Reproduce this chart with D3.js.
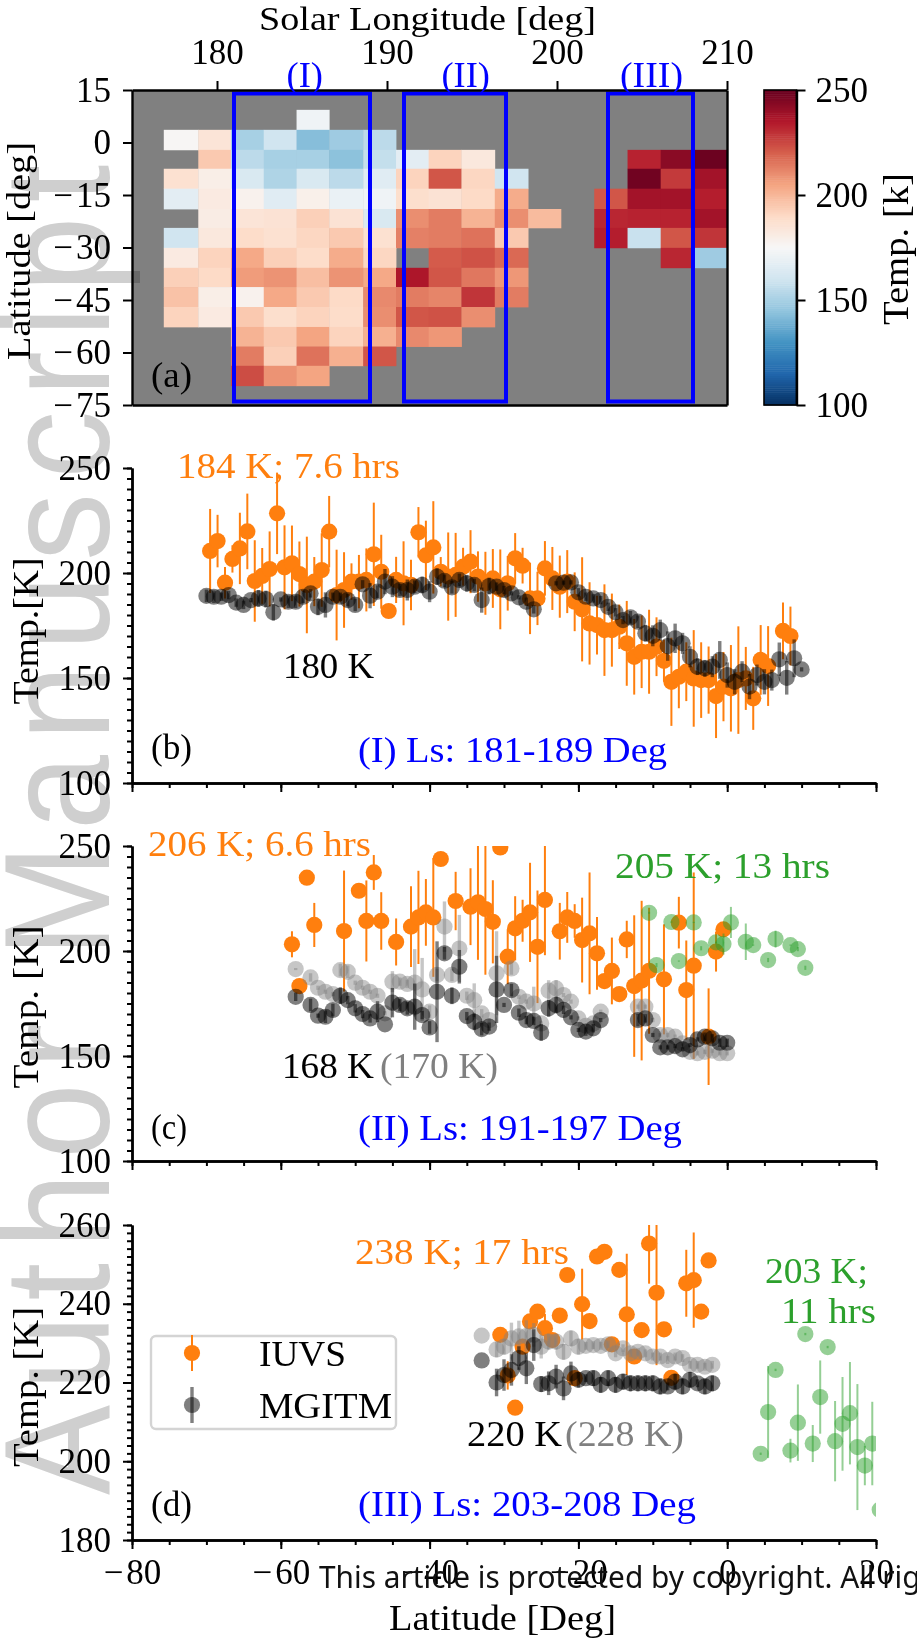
<!DOCTYPE html>
<html lang="en">
  <head>
    <meta charset="utf-8" />
    <title>Temperature vs latitude</title>
    <script src="https://d3js.org/d3.v7.min.js"></script>
    <style>
      body { margin: 0; background: white; }
      text { font-family: "Liberation Serif", serif; }
    </style>
  </head>
  <body>
    <script>
      const WIDTH = 917;
      const HEIGHT = 1640;
      const ORANGE = "#ff7f0e";
      const GREEN = "#2ca02c";
      const BLUE = "#0000ff";
      const GREY = "#808080";
      const MARKER_R = 8.1;

      // Panel (a) bins and temperatures, rows top to bottom, null = no data
      const lsEdges = [176.87, 178.9, 180.82, 182.75, 184.68, 186.6, 188.6, 190.53, 192.45, 194.38, 196.34, 198.3, 200.23, 202.19, 204.15, 206.1, 208.07, 210];
      const latEdges = [9.33, 3.62, -2.1, -7.5, -13.2, -19, -24.4, -30.1, -35.8, -41.3, -47, -52.7, -58.3, -63.8, -69.5];
      const _ = null;
      const tempGrid = [
        [_, _, _, _, 172, _, _, _, _, _, _, _, _, _, _, _, _],
        [176, 185, 150, 160, 143, 148, 155, _, _, _, _, _, _, _, _, _, _],
        [_, 195, 155, 150, 150, 144, 157, 167, 192, 183, _, _, _, _, 233, 243, 249],
        [187, 180, 163, 152, 163, 155, 166, 192, 222, 191, 160, _, _, _, 248, 228, 238],
        [167, 182, 178, 166, 179, 170, 172, 188, 186, 190, 203, _, _, 222, 238, 238, 234],
        [_, 181, 185, 186, 193, 186, 163, 210, 214, 201, 210, 199, _, 232, 233, 233, 238],
        [160, 183, 189, 187, 191, 195, 187, 213, 214, 216, 195, _, _, 234, 158, 222, 229],
        [182, 192, 204, 193, 189, 203, 191, _, 221, 223, 218, _, _, _, _, 232, 148],
        [193, 190, 207, 209, 198, 209, 204, 236, 222, 215, 208, _, _, _, _, _, _],
        [197, 180, 178, 204, 195, 190, 211, 214, 212, 229, 214, _, _, _, _, _, _],
        [192, 182, 195, 188, 192, 189, 210, 222, 223, 210, _, _, _, _, _, _, _],
        [_, _, 201, 195, 205, 192, 202, 211, 208, _, _, _, _, _, _, _, _],
        [_, _, 214, 193, 216, 202, 222, _, _, _, _, _, _, _, _, _, _],
        [_, _, 224, 209, 205, _, _, _, _, _, _, _, _, _, _, _, _],
      ];
      const boxStarts = [181, 191, 203];
      const boxEnds = [189, 197, 208];
      const boxNames = ["(I)", "(II)", "(III)"];
      const boxLabelX = [286.5, 441.5, 620];
      const boxLabelW = [36.5, 48.5, 63];
      const rdbuColors = ["#053061", "#2166ac", "#4393c3", "#92c5de", "#d1e5f0", "#f7f7f7", "#fddbc7", "#f4a582", "#d6604d", "#b2182b", "#67001f"];

      // Panel (b) Ls 181-189
      const bIuvsLat = [-69.5, -68.5, -67.5, -66.5, -65.5, -64.5, -63.5, -62.5, -61.5, -60.5, -59.5, -58.5, -57.5, -56.5, -55.5, -54.5, -53.5, -52.5, -51.5, -50.5, -49.5, -48.5, -47.5, -46.5, -45.5, -44.5, -43.5, -42.5, -41.5, -40.5, -39.5, -38.5, -37.5, -36.5, -35.5, -34.5, -33.5, -32.5, -31.5, -30.5, -29.5, -28.5, -27.5, -26.5, -25.5, -24.5, -23.5, -22.5, -21.5, -20.5, -19.5, -18.5, -17.5, -16.5, -15.5, -14.5, -13.5, -12.5, -11.5, -10.5, -9.5, -8.5, -7.5, -6.5, -5.5, -4.5, -3.5, -2.5, -1.5, -0.5, 0.5, 1.5, 2.5, 3.5, 4.5, 5.5, 7.5, 8.5];
      const bIuvsTemp = [210.5, 215.2, 195.4, 206.7, 211.7, 219.8, 196.2, 198.6, 201.9, 228.4, 202.7, 204.6, 199.5, 194.3, 195.9, 201.4, 219.7, 189.5, 191.9, 195.9, 195.9, 196.7, 208.9, 200.6, 181.9, 196.7, 195.1, 194.3, 219.4, 208.4, 212.2, 200.6, 198.3, 199.1, 203, 205.4, 198.3, 195.1, 197.4, 192.2, 195.1, 207, 203.5, 187.9, 187.9, 202.2, 197.4, 193.5, 195.9, 186.3, 182.7, 176, 175.2, 172.8, 172.8, 174.4, 166.5, 160.1, 162.5, 162.5, 164.9, 158.2, 148.2, 150.6, 153, 149.8, 149, 149, 141.4, 145.9, 145.1, 149, 149.8, 140.3, 158.6, 155.7, 172.4, 170];
      const bIuvsErr = [20, 12.5, 7.5, 6.5, 17, 18, 19.4, 13.3, 17.9, 19.4, 20, 18, 15.5, 23, 11.7, 17.5, 17, 21.6, 18, 8.7, 12.7, 15, 24.6, 17.6, 0, 11, 20, 12, 12, 16.5, 22, 7, 21, 20, 9, 15, 12, 15, 14, 19, 13, 12, 8.5, 17, 12.7, 13, 15, 14.8, 15, 14, 24.8, 19.6, 14, 21.8, 17.4, 10.6, 20.2, 18, 17.3, 20, 14, 10, 21, 15, 14, 23, 18, 16, 20, 16.5, 20.6, 25.6, 15, 15, 16.6, 19, 13.5, 14];
      const bModelLat = [-70, -69, -68, -67, -66, -65, -64, -63, -62, -61, -60, -59, -58, -57, -56, -55, -54, -53, -52, -51, -50, -49, -48, -47, -46, -45, -44, -43, -42, -41, -40, -39, -38, -37, -36, -35, -34, -33, -32, -31, -30, -29, -28, -27, -26, -23, -22, -21, -20, -19, -18, -17, -16, -15, -14, -13, -12, -11, -10, -9, -8, -7, -6, -5, -4, -3, -2, -1, 0, 1, 2, 3, 4, 5, 6, 7, 8, 9, 10];
      const bModelTemp = [189.1, 188.7, 188.7, 189.5, 185.9, 184.8, 187.1, 187.9, 187.6, 181.3, 187.4, 186.3, 186.3, 188.7, 190.3, 183.9, 184.8, 188.7, 188.7, 187.1, 184.8, 194.6, 189.2, 191.1, 195.9, 193.5, 191.9, 191.9, 193.5, 194.3, 191.1, 198.3, 196.3, 193.2, 196.7, 195.1, 194.3, 187.1, 193.8, 193.5, 191.9, 190.3, 188.4, 186.3, 182.7, 195.1, 195.4, 195.5, 190.8, 188.7, 187.9, 187.1, 183.9, 181.3, 177.6, 178.9, 176.8, 171.3, 170.1, 172.8, 165.2, 168.9, 166.5, 160.1, 155.4, 154.6, 155.4, 158.6, 151.4, 148.2, 153, 145.9, 151.4, 148.2, 149, 158.9, 150.1, 159.4, 154.1];
      const bModelErr = [3, 3, 2, 2, 2, 2, 1, 4, 4, 4, 1, 3, 3, 3, 2, 4, 6, 2, 2, 3, 3, 2, 6, 3, 6, 5, 3, 5, 3, 4, 5, 4, 3, 3, 3, 4, 3, 6, 4, 2, 2, 1, 1, 2, 2, 1, 1, 1, 2, 2, 2, 2, 2, 2, 2, 3, 3, 4, 5, 5, 7, 7, 5, 5, 4, 4, 5, 9, 6, 6, 5, 6, 5, 6, 5, 8, 8, 9, 1];

      // Panel (c) Ls 191-197
      const cIuvsLat = [-58.5, -57.5, -56.5, -55.5, -51.5, -49.5, -48.5, -47.5, -46.5, -44.5, -42.5, -41.5, -40.5, -39.5, -38.5, -36.5, -34.5, -33.5, -32.5, -31.5, -30.5, -29.5, -28.5, -27.5, -26.5, -25.5, -24.5, -22.5, -21.5, -20.5, -19.5, -18.5, -17.5, -16.5, -15.5, -14.5, -13.5, -12.5, -11.5, -10.5, -8.5, -6.5, -5.5, -4.5, -2.5, -1.5, -0.5];
      const cIuvsTemp = [203.2, 183.3, 234.9, 212.4, 209.5, 228.7, 214.3, 237.4, 214.3, 204.3, 211.6, 216, 218.4, 216, 243.8, 223.8, 221.1, 223.2, 220, 213.9, 249.3, 197.3, 210.8, 214.4, 218.4, 202, 224.3, 209.4, 216, 214.3, 205.2, 208.4, 198.9, 185.7, 190.5, 179.5, 205.5, 183.3, 185.9, 190.6, 186.5, 213.5, 181.4, 193, 159.2, 199.7, 210.3];
      const cIuvsErr = [6.2, 0, 0, 10.5, 28.8, 0, 19.3, 8.3, 13.7, 11.2, 19.2, 22.2, 15.9, 28.3, 0, 13.9, 18.3, 27.4, 31.3, 19.8, 0, 13.1, 15.3, 10, 23.6, 26.8, 26.3, 13.5, 12.1, 8, 20.2, 29, 17.3, 2, 15.9, 0, 8.9, 33.7, 38, 30, 26.2, 12.3, 23.6, 44.4, 23, 9.5, 0];
      const cGreenLat = [-10.5, -9.5, -7.5, -6.5, -4.5, -3.5, -1.5, -0.5, 0.5, 2.5, 3.5, 5.5, 6.5, 8.5, 9.5, 10.5];
      const cGreenTemp = [218.2, 193.3, 213.8, 195.2, 213.6, 201.3, 204.1, 203.3, 213.6, 204.4, 202.8, 195.7, 205.7, 202.8, 200.9, 192];
      const cGreenErr = [0.5, 1, 0.3, 0.3, 0.3, 1, 0.3, 5, 7.4, 8.7, 0.3, 1, 4, 0.3, 1, 1];
      const cModelLat = [-58, -56, -55, -54, -53, -52, -51, -50, -49, -48, -47, -46, -45, -44, -43, -42, -41, -40, -39, -38, -37, -36, -35, -34, -33, -32, -31, -30, -29, -28, -27, -26, -25, -24, -23, -22, -21, -20, -19, -18, -17, -12, -11, -10, -9, -8, -7, -6, -5, -4, -3, -2, -1, 0];
      const cModelTemp = [178.2, 174.3, 169.2, 168.7, 171.9, 178.7, 176.6, 172.7, 170, 167.9, 171.1, 165.1, 175.4, 174.3, 172.7, 173.5, 169.5, 163.6, 180.6, 198.9, 178.7, 192.5, 169, 166.3, 162.8, 164, 181.7, 174.3, 181.4, 170.6, 167.1, 166.7, 161.2, 172.7, 174.3, 172, 168.4, 162.4, 161.6, 163.2, 167.1, 167.1, 167.9, 160, 154.1, 154.1, 154.7, 153.2, 155.2, 157.9, 159.2, 158.4, 156.3, 156.3];
      const cModelErr = [2, 3, 1, 3, 3, 4, 2, 2, 2, 2, 5, 0, 7, 3, 3, 11, 2, 3, 24, 3, 4, 8, 2, 4, 3, 2, 16, 1, 3, 2, 2, 2, 4, 4, 4, 2, 1, 1, 2, 2, 1, 3, 2, 1, 1, 1, 1, 1, 1, 1, 2, 2, 2, 2];
      const cShiftLat = [-58, -56, -55, -54, -53, -52, -51, -50, -49, -48, -47, -46, -45, -44, -43, -42, -41, -40, -39, -38, -37, -36, -35, -34, -33, -32, -31, -29, -28, -27, -26, -25, -24, -23, -22, -21, -20, -19, -18, -17, -12, -11, -10, -9, -8, -7, -6, -5, -4, -3, -2, -1, 0];
      const cShiftTemp = [191.4, 187.4, 182.5, 180.6, 179.5, 190.9, 190.1, 184.9, 182.5, 180.6, 178.7, 170.3, 185.4, 185.4, 184.3, 184.9, 181.7, 171.1, 188.6, 211.6, 188.6, 201.2, 178.7, 176.6, 170.3, 167.1, 189.4, 191.7, 178.2, 175.9, 175, 165.5, 181.1, 182.2, 179, 175.9, 167.9, 164.4, 165.5, 171.1, 173.5, 173.5, 167.1, 160, 160, 159.2, 156, 152, 151.3, 152, 152.5, 151.3, 151.3];
      const cShiftErr = [0.5, 2, 1, 1, 1, 3, 3, 1, 1, 1, 1, 1, 5, 2, 2, 16, 15, 3, 3, 12, 3, 16, 2, 8, 2, 1, 20, 3, 1, 1, 8, 1, 5, 4, 1, 1, 1, 1, 1, 1, 1, 1, 1, 1, 1, 1, 1, 1, 1, 1, 1, 1, 1];

      // Panel (d) Ls 203-208
      const dIuvsLat = [-30.5, -29.5, -28.5, -27.5, -26.5, -25.5, -24.5, -23.5, -22.5, -21.5, -20.5, -19.5, -18.5, -17.5, -16.5, -15.5, -14.5, -13.5, -12.5, -11.5, -10.5, -9.5, -8.5, -7.5, -5.5, -4.5, -3.5, -2.5];
      const dIuvsTemp = [232.1, 221.8, 213.6, 229.1, 235.5, 238, 233.8, 230.8, 237, 247.3, 221.1, 239.9, 235.6, 252, 253.2, 229.7, 248.6, 237.3, 226.6, 233.3, 255.3, 242.8, 233.5, 221.2, 245.2, 246, 238, 251];
      const dIuvsErr = [0, 3.6, 0, 0, 0, 0, 3.6, 0, 0, 0, 0, 9, 0, 0, 0, 0, 0, 15.4, 0, 0, 10.2, 18.4, 0, 0, 8.5, 12.1, 0, 0];
      const dGreenLat = [4.5, 5.5, 6.5, 8.5, 9.5, 10.5, 11.5, 12.5, 13.5, 14.5, 15.5, 16.5, 17.5, 18.5, 19.5, 20.5];
      const dGreenTemp = [201.9, 212.5, 223.2, 202.7, 209.8, 232.3, 204.5, 216.3, 229, 205.1, 209.5, 212.2, 203.6, 198.9, 204.5, 187.7];
      const dGreenErr = [0.3, 11.7, 0.3, 3, 9.7, 0.3, 4.7, 9.3, 0.3, 10.2, 11.9, 13, 16, 5, 10.6, 0.3];
      const dModelLat = [-33, -31, -30, -29, -28, -27, -26, -25, -24, -23, -22, -21, -20, -19, -18, -17, -16, -15, -14, -13, -12, -11, -10, -9, -8, -7, -6, -5, -4, -3, -2];
      const dModelTemp = [225.6, 220, 221.9, 223.2, 226.2, 223.6, 229.5, 219.6, 219.8, 221.5, 218.5, 222.3, 220.7, 221.1, 221.1, 219.4, 221.1, 219.4, 220.2, 219.8, 219.8, 219.8, 219.8, 219, 219, 220.2, 219, 220.7, 219.8, 219, 219.8];
      const dModelErr = [0, 3.5, 4, 4, 3, 4, 4, 2, 3, 3, 3, 3, 2, 1, 2, 2, 2, 2, 2, 2, 2, 2, 2, 2, 1, 2, 2, 2, 1, 2, 2];
      const dShiftLat = dModelLat;
      const dShiftTemp = [231.9, 228.4, 229.1, 231.2, 231.7, 231.8, 232.1, 229.1, 230.4, 230.4, 227.8, 231.2, 229.1, 229.3, 229.5, 229.3, 229.7, 227.4, 228.7, 227.4, 227.8, 227.4, 226.6, 226.6, 225.7, 226.6, 226.2, 224.5, 224.5, 224, 224.5];
      const dShiftErr = [0, 2, 2, 4, 4, 4, 3, 3, 2, 2, 2, 2, 2, 1, 1, 1, 1, 1, 1, 1, 1, 1, 1, 1, 1, 1, 1, 1, 1, 1, 1];

      const svg = d3.select("body").append("svg").attr("width", WIDTH).attr("height", HEIGHT);
      svg.append("rect").attr("width", WIDTH).attr("height", HEIGHT).attr("fill", "white");

      // Text is squeezed to the measured width since LaTeX fonts are not around
      function label(txt, x, y, w, color, size) {
        const t = svg.append("text").attr("x", x).attr("y", y)
          .attr("fill", color || "black").attr("font-size", size || 35).text(txt);
        if (w) t.attr("textLength", w).attr("lengthAdjust", "spacingAndGlyphs");
        return t;
      }

      function vLabel(txt, x, cy, w, size) {
        return svg.append("text").attr("transform", "translate(" + x + "," + cy + ") rotate(-90)")
          .attr("text-anchor", "middle").attr("font-size", size || 35)
          .attr("textLength", w).attr("lengthAdjust", "spacingAndGlyphs").text(txt);
      }

      // LaTeX minus is wide, the hair space makes up for a bit of it
      const minusFmt = (d) => String(d).replace("-", "\u2212\u200a");

      function styleAxis(g) {
        g.selectAll(".domain").attr("stroke", "black").attr("stroke-width", 2.4);
        g.selectAll(".tick line").attr("stroke", "black").attr("stroke-width", 2);
        g.selectAll(".tick text").attr("fill", "black").attr("font-size", 35)
          .style("font-family", '"Liberation Serif", serif');
      }

      function addAxis(axis, tx, ty) {
        const g = svg.append("g").attr("transform", "translate(" + tx + "," + ty + ")").call(axis);
        g.attr("font-family", null);
        styleAxis(g);
        return g;
      }

      // Panel (a)
      const PANEL_A = { left: 132, right: 727, top: 90, bottom: 405 };
      const lsScale = d3.scaleLinear().domain([175, 210]).range([PANEL_A.left, PANEL_A.right]);
      const latScaleA = d3.scaleLinear().domain([15, -75]).range([PANEL_A.top, PANEL_A.bottom]);
      const tempColor = d3.scaleLinear().domain(d3.range(11).map((i) => 100 + i * 15)).range(rdbuColors);

      svg.append("rect").attr("x", PANEL_A.left).attr("y", PANEL_A.top)
        .attr("width", PANEL_A.right - PANEL_A.left).attr("height", PANEL_A.bottom - PANEL_A.top)
        .attr("fill", GREY);

      const cells = tempGrid.flatMap((row, r) => row.map((v, c) => ({ r, c, v }))).filter((d) => d.v !== null);
      svg.append("g").selectAll("rect").data(cells).enter().append("rect")
        .attr("x", (d) => lsScale(lsEdges[d.c]))
        .attr("y", (d) => latScaleA(latEdges[d.r]))
        .attr("width", (d) => lsScale(lsEdges[d.c + 1]) - lsScale(lsEdges[d.c]) + 0.4)
        .attr("height", (d) => latScaleA(latEdges[d.r + 1]) - latScaleA(latEdges[d.r]) + 0.4)
        .attr("fill", (d) => tempColor(d.v));

      svg.append("g").selectAll("rect").data(boxStarts).enter().append("rect")
        .attr("x", (d) => lsScale(d))
        .attr("y", latScaleA(14))
        .attr("width", (d, i) => lsScale(boxEnds[i]) - lsScale(d))
        .attr("height", latScaleA(-74) - latScaleA(14))
        .attr("fill", "none").attr("stroke", BLUE).attr("stroke-width", 4);

      addAxis(d3.axisTop(lsScale).tickValues([180, 190, 200, 210]).tickSize(9).tickPadding(17).tickSizeOuter(0), 0, PANEL_A.top);
      addAxis(d3.axisLeft(latScaleA).tickValues([15, 0, -15, -30, -45, -60, -75]).tickFormat(minusFmt).tickSize(9).tickPadding(12).tickSizeOuter(0), PANEL_A.left, 0);
      addAxis(d3.axisBottom(lsScale).tickValues([]).tickSizeOuter(0), 0, PANEL_A.bottom);
      addAxis(d3.axisRight(latScaleA).tickValues([]).tickSizeOuter(0), PANEL_A.right, 0);

      label("Solar Longitude [deg]", 259, 30, 337, "black", 33);
      vLabel("Latitude [deg]", 30, 251, 218, 33);
      label("(a)", 151, 387, 41);
      boxNames.forEach((n, i) => label(n, boxLabelX[i], 87, boxLabelW[i], BLUE));

      // Colour bar
      const CBAR = { left: 764, right: 796.5 };
      const cbarScale = d3.scaleLinear().domain([100, 250]).range([PANEL_A.bottom, PANEL_A.top]);
      svg.append("g").selectAll("rect").data(d3.range(100, 250, 1)).enter().append("rect")
        .attr("x", CBAR.left).attr("width", CBAR.right - CBAR.left)
        .attr("y", (d) => cbarScale(d + 1)).attr("height", (d) => cbarScale(d) - cbarScale(d + 1) + 0.5)
        .attr("fill", (d) => tempColor(d + 0.5));
      svg.append("rect").attr("x", CBAR.left).attr("y", PANEL_A.top)
        .attr("width", CBAR.right - CBAR.left).attr("height", PANEL_A.bottom - PANEL_A.top)
        .attr("fill", "none").attr("stroke", "black").attr("stroke-width", 1.6);
      addAxis(d3.axisRight(cbarScale).tickValues([100, 150, 200, 250]).tickSize(9).tickPadding(10).tickSizeOuter(0), CBAR.right, 0);
      vLabel("Temp. [k]", 908, 249, 152);

      // Scatter panels share one latitude axis
      const latScale = d3.scaleLinear().domain([-80, 20]).range([132, 876]);

      function errorSeries(g, y, lats, temps, errs, color, opacity, lw) {
        const pts = lats.map((lat, i) => ({ lat, t: temps[i], e: errs[i] }));
        g.append("g").selectAll("line").data(pts.filter((d) => d.e > 0)).enter().append("line")
          .attr("x1", (d) => latScale(d.lat)).attr("x2", (d) => latScale(d.lat))
          .attr("y1", (d) => y(d.t - d.e)).attr("y2", (d) => y(d.t + d.e))
          .attr("stroke", color).attr("stroke-width", lw).attr("stroke-opacity", opacity);
        g.append("g").selectAll("circle").data(pts).enter().append("circle")
          .attr("cx", (d) => latScale(d.lat)).attr("cy", (d) => y(d.t)).attr("r", MARKER_R)
          .attr("fill", color).attr("fill-opacity", opacity);
      }

      function scatterPanel(name, domain, top, bottom, majors, minorStep, series) {
        const y = d3.scaleLinear().domain(domain).range([bottom, top]);
        svg.append("clipPath").attr("id", "clip-" + name).append("rect")
          .attr("x", 132).attr("y", top).attr("width", 876 - 132).attr("height", bottom - top);
        const g = svg.append("g").attr("clip-path", "url(#clip-" + name + ")");
        series.forEach((s) => errorSeries(g, y, s[0], s[1], s[2], s[3], s[4], s[5]));
        addAxis(d3.axisLeft(y).tickValues(d3.range(domain[0], domain[1] + 1, minorStep)).tickFormat("").tickSize(5).tickSizeOuter(0), 132, 0);
        addAxis(d3.axisLeft(y).tickValues(majors).tickSize(9).tickPadding(12).tickSizeOuter(0), 132, 0);
        addAxis(d3.axisBottom(latScale).tickValues(d3.range(-80, 21, 5)).tickFormat("").tickSize(5).tickSizeOuter(0), 0, bottom);
        return addAxis(d3.axisBottom(latScale).tickValues(d3.range(-80, 21, 20)).tickFormat(name === "d" ? minusFmt : "").tickSize(9).tickPadding(10).tickSizeOuter(0), 0, bottom);
      }

      scatterPanel("b", [100, 250], 468, 783, [100, 150, 200, 250], 5, [
        [bIuvsLat, bIuvsTemp, bIuvsErr, ORANGE, 1, 2],
        [bModelLat, bModelTemp, bModelErr, "black", 0.5, 3.4],
      ]);
      label("184 K; 7.6 hrs", 177, 478, 223, ORANGE);
      label("180 K", 283, 678, 91);
      label("(b)", 151, 759, 41);
      label("(I) Ls: 181-189 Deg", 358, 762, 309, BLUE);
      vLabel("Temp.[K]", 38, 631, 147);

      scatterPanel("c", [100, 250], 846, 1161, [100, 150, 200, 250], 5, [
        [cIuvsLat, cIuvsTemp, cIuvsErr, ORANGE, 1, 2],
        [cGreenLat, cGreenTemp, cGreenErr, GREEN, 0.5, 2],
        [cShiftLat, cShiftTemp, cShiftErr, GREY, 0.45, 3.4],
        [cModelLat, cModelTemp, cModelErr, "black", 0.5, 3.4],
      ]);
      label("206 K; 6.6 hrs", 148, 856, 223, ORANGE);
      label("205 K; 13 hrs", 615, 878, 215, GREEN);
      label("168 K", 282, 1078, 92);
      label("(170 K)", 380, 1078, 118, GREY);
      label("(c)", 151, 1139, 36);
      label("(II) Ls: 191-197 Deg", 358, 1140, 324, BLUE);
      vLabel("Temp. [K]", 38, 1007, 163);

      scatterPanel("d", [180, 260], 1225, 1540, [180, 200, 220, 240, 260], 2, [
        [dIuvsLat, dIuvsTemp, dIuvsErr, ORANGE, 1, 2],
        [dGreenLat, dGreenTemp, dGreenErr, GREEN, 0.5, 2],
        [dShiftLat, dShiftTemp, dShiftErr, GREY, 0.45, 3.4],
        [dModelLat, dModelTemp, dModelErr, "black", 0.5, 3.4],
      ]);
      label("238 K; 17 hrs", 355, 1264, 214, ORANGE);
      label("203 K;", 765, 1283, 103, GREEN);
      label("11 hrs", 781, 1323, 95, GREEN);
      label("220 K", 467, 1446, 95);
      label("(228 K)", 565, 1446, 119, GREY);
      label("(d)", 151, 1516, 41);
      label("(III) Ls: 203-208 Deg", 358, 1516, 338, BLUE);
      vLabel("Temp. [K]", 38, 1387, 160);
      label("Latitude [Deg]", 389, 1630, 227);

      // Legend
      const legend = svg.append("g");
      legend.append("rect").attr("x", 151).attr("y", 1336).attr("width", 245).attr("height", 93)
        .attr("rx", 5).attr("fill", "white").attr("fill-opacity", 0.8)
        .attr("stroke", "#d4d4d4").attr("stroke-width", 2.4);
      [
        { cy: 1353, color: ORANGE, op: 1, lw: 2, name: "IUVS", w: 87 },
        { cy: 1405, color: "black", op: 0.5, lw: 3.4, name: "MGITM", w: 133 },
      ].forEach((d) => {
        legend.append("line").attr("x1", 192).attr("x2", 192).attr("y1", d.cy - 18).attr("y2", d.cy + 18)
          .attr("stroke", d.color).attr("stroke-width", d.lw).attr("stroke-opacity", d.op);
        legend.append("circle").attr("cx", 192).attr("cy", d.cy).attr("r", MARKER_R)
          .attr("fill", d.color).attr("fill-opacity", d.op);
        label(d.name, 259, d.cy + 13, d.w);
      });

      // Journal stamp and watermark sit over the whole figure
      svg.append("text").attr("x", 319).attr("y", 1588).attr("fill", "#111")
        .attr("font-size", 30).style("font-family", '"Noto Sans", sans-serif')
        .attr("textLength", 775).attr("lengthAdjust", "spacingAndGlyphs")
        .text("This article is protected by copyright. All rights reserved");

      svg.append("text").attr("transform", "translate(109,1495) rotate(-90) scale(0.9,1)")
        .attr("font-size", 150).attr("fill", "#cfcfcf").style("font-family", '"Liberation Sans", sans-serif')
        .style("mix-blend-mode", "multiply")
        .attr("textLength", 1478).attr("lengthAdjust", "spacing")
        .text("Author Manuscript");
    </script>
  </body>
</html>
